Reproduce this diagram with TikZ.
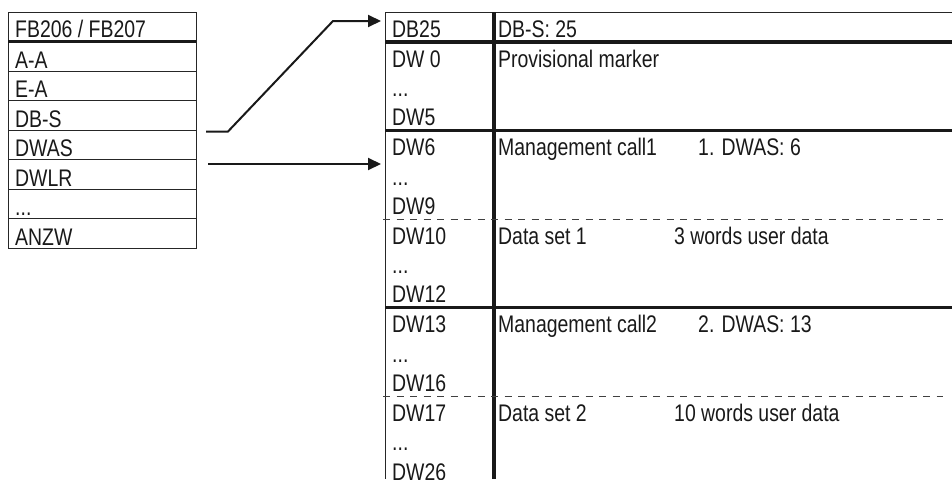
\documentclass[tikz,border=0pt]{standalone}
\usepackage{fontspec}
\setmainfont[FakeStretch=0.81]{Liberation Sans}
\usetikzlibrary{arrows.meta}

\tikzset{
  txt/.style={anchor=base west, inner sep=0pt, font=\fontsize{24}{28}\selectfont, text=black!90},
  rule/.style={draw=black!85, line width=0.9pt},
  heavy/.style={draw=black!90, line width=3.6pt},
  dashrule/.style={draw=black!75, line width=0.9pt, dash pattern=on 7pt off 6.5pt},
  link/.style={draw=black!90, line width=2pt, -{Triangle[length=13pt,width=12pt]}}
}

\begin{document}
\begin{tikzpicture}[x=1pt, y=-1pt]
\useasboundingbox (0,0) rectangle (952,479);
\clip (0,0) rectangle (952,479);
% Parameter block FB206 / FB207
\draw[rule] (8,12) rectangle (196,248);
\foreach \y in {71,100.5,130,159.5,189,218.5}
  \draw[rule] (8,\y) -- (196,\y);
\draw[heavy] (8,41.5) -- (196,41.5);
\node[txt] (fb) at (15,37) {FB206 / FB207};
\node[txt] (aa) at (15,68) {A-A};
\node[txt] (ea) at (15,97.5) {E-A};
\node[txt] (dbs) at (15,127) {DB-S};
\node[txt] (dwas) at (15,156.5) {DWAS};
\node[txt] (dwlr) at (15,186) {DWLR};
\node[txt] (fbdots) at (15,215.5) {...};
\node[txt] (anzw) at (15,245) {ANZW};
% Data block DB25
\draw[rule] (952,12) -- (385,12) -- (385,479);
\draw[heavy] (494,12) -- (494,479);
\draw[heavy] (385,42) -- (952,42);
\draw[heavy] (385,130.5) -- (952,130.5);
\draw[dashrule] (383,219) -- (943,219);
\draw[heavy] (385,307.5) -- (952,307.5);
\draw[dashrule] (383,396) -- (943,396);
\node[txt] (db25) at (392,37) {DB25};
\node[txt] (dbsval) at (498,37) {DB-S: 25};
% provisional marker
\node[txt] (dw0) at (392,67) {DW 0};
\node[txt] (dotsA) at (392,96.5) {...};
\node[txt] (dw5) at (392,125.5) {DW5};
\node[txt] (prov) at (498,67) {Provisional marker};
% management call 1
\node[txt] (dw6) at (392,155.5) {DW6};
\node[txt] (dotsB) at (392,185) {...};
\node[txt] (dw9) at (392,214) {DW9};
\node[txt] (mcall1) at (498,155.5) {Management call1};
\node[txt] (dwas1) at (698,155.5) {1. DWAS: 6};
% data set 1
\node[txt] (dw10) at (392,244) {DW10};
\node[txt] (dotsC) at (392,273.5) {...};
\node[txt] (dw12) at (392,302.5) {DW12};
\node[txt] (dset1) at (498,244) {Data set 1};
\node[txt] (words1) at (674,244) {3 words user data};
% management call 2
\node[txt] (dw13) at (392,332.5) {DW13};
\node[txt] (dotsD) at (392,362) {...};
\node[txt] (dw16) at (392,391) {DW16};
\node[txt] (mcall2) at (498,332.5) {Management call2};
\node[txt] (dwas2) at (698,332.5) {2. DWAS: 13};
% data set 2
\node[txt] (dw17) at (392,421) {DW17};
\node[txt] (dotsE) at (392,450.5) {...};
\node[txt] (dw26) at (392,480) {DW26};
\node[txt] (dset2) at (498,421) {Data set 2};
\node[txt] (words2) at (674,421) {10 words user data};
% pointers
\coordinate (dbsout) at (206,131.5);
\coordinate (dwasout) at (208,164);
\coordinate (db25in) at (381,21);
\coordinate (dw6in) at (381,164);
\draw[link] (dbsout) -- ++(22,0) -- ([xshift=-48pt]db25in) -- (db25in);
\draw[link] (dwasout) -- (dw6in);
\end{tikzpicture}
\end{document}
